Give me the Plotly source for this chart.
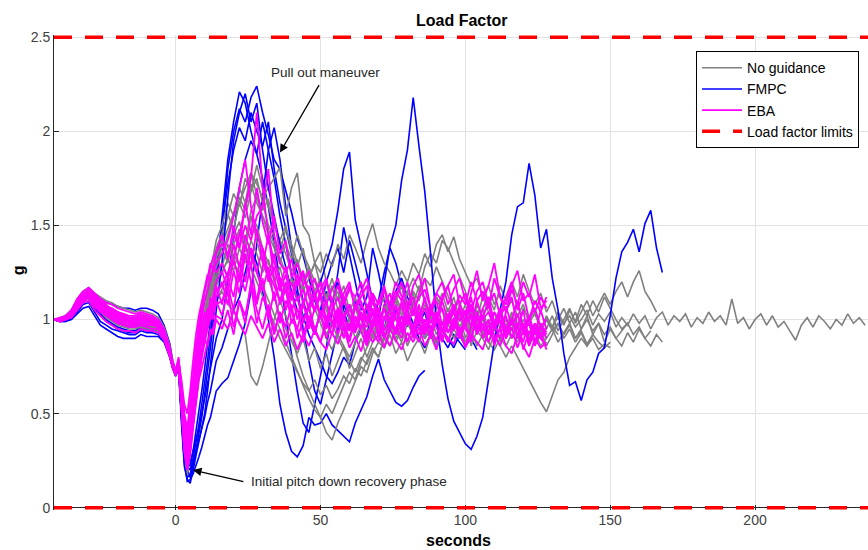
import plotly.graph_objects as go

# Common time grid (s): 2 s steps before release, 1 s through the pitch-down dip, 2 s afterwards
t_grid = list(range(-42, -1, 2)) + [-1, 0] + list(range(1, 15)) + list(range(16, 240, 2))

# ---------------- No guidance runs (g) ----------------
nog_1 = [1.00,1.00,1.01,1.04,1.10,1.14,1.16,1.12,1.10,1.07,1.06,1.04,1.03,1.01,1.02,1.03,1.01,1.00,0.98,0.93,0.83,0.76,0.72,
         0.77,0.50,0.25,0.17,0.30,0.48,0.62,0.75,0.88,0.98,1.08,1.15,1.22,1.28,
         1.35,1.45,1.55,1.62,1.70,1.78,1.72,1.65,1.70,1.75, 1.81,1.55,1.70,1.78,1.50,1.45,1.30,1.36,1.20,1.10,
         1.15,1.02,1.08,0.95,1.04,0.92,1.00,0.96,1.08,1.02, 1.12,1.05,0.98,1.10,1.04,0.95,1.02,0.92,0.98,1.06,
         0.96,1.03,0.90,0.97,1.05,0.94,0.88,0.98,1.04,0.92, 0.98,0.90,0.96,1.02,0.88,0.95,0.86,0.92,0.98,0.90,
         0.95,0.88,0.93,0.86,0.90,0.84,0.87,0.85]
nog_2 = [1.00,0.99,1.00,1.02,1.07,1.11,1.13,1.09,1.06,1.04,1.02,1.01,0.99,0.98,0.98,0.99,0.98,0.97,0.96,0.91,0.81,0.75,0.71,
         0.76,0.55,0.35,0.28,0.40,0.56,0.70,0.82,0.92,1.00,1.08,1.12,1.18,1.10,
         1.15,1.08,1.05,0.98,0.92,0.70,0.65,0.75,0.88,1.00, 1.10,1.18,1.05,1.12,1.00,1.08,0.95,1.02,0.92,0.98,
         1.05,0.94,1.00,0.90,0.97,0.88,0.95,1.02,0.92,0.98, 0.90,0.96,0.86,0.93,1.00,0.90,0.96,0.88,0.94,1.02,
         0.95,1.05,0.98,1.08,1.00,1.12,1.04,0.98,1.06,0.96, 1.04,0.94,1.00,0.92,0.98,0.90,0.95,1.02,0.94,1.00,
         1.06,0.98,1.04,1.10,1.02,1.08,1.14,1.08,1.15,1.20, 1.12,1.20,1.26,1.15,1.10,1.04]
nog_3 = [1.00,1.00,1.00,1.02,1.06,1.10,1.11,1.07,1.04,1.01,0.99,0.97,0.96,0.95,0.95,0.96,0.95,0.95,0.94,0.90,0.80,0.74,0.70,
         0.75,0.52,0.30,0.20,0.32,0.45,0.58,0.70,0.80,0.90,0.98,1.05,1.12,1.18,
         1.25,1.32,1.40,1.48,1.42,1.55,1.50,1.38,1.30,1.22, 1.10,1.02,0.92,0.80,0.70,0.62,0.55,0.48,0.40,0.36,
         0.45,0.52,0.60,0.68,0.75,0.72,0.82,0.88,0.85,0.95, 1.02,0.96,1.08,1.15,1.10,1.22,1.18,1.28,1.20,1.12,
         1.05,1.10,0.98,1.04,0.95,1.00,0.92,0.98,1.02,0.94, 0.98,0.90,0.95,0.88,0.93,0.86,0.90]
nog_4 = [1.00,1.00,1.01,1.03,1.08,1.12,1.14,1.10,1.08,1.06,1.04,1.03,1.02,1.00,1.00,1.01,1.00,0.99,0.97,0.92,0.83,0.76,0.71,
         0.77,0.58,0.40,0.32,0.42,0.55,0.66,0.76,0.84,0.90,0.96,1.00,1.05,1.10,
         1.16,1.22,1.30,1.25,1.35,1.28,1.20,1.12,1.05,0.98, 0.90,0.84,0.78,0.72,0.66,0.62,0.68,0.60,0.65,0.58,
         0.63,0.70,0.66,0.74,0.70,0.78,0.84,0.80,0.90,0.86, 0.94,0.88,0.98,0.92,1.02,0.96,0.90,1.00,0.94,0.88,
         0.95,0.90,0.98,0.86,0.94,0.90,0.84,0.92,0.86,0.80, 0.86,0.80,0.74,0.68,0.62,0.56,0.51,0.60,0.68,0.72,
         0.80,0.85,0.90,0.86,0.92,0.88,0.85,0.88]
nog_5 = [1.00,1.01,1.02,1.05,1.11,1.15,1.17,1.14,1.12,1.10,1.09,1.07,1.06,1.05,1.04,1.05,1.04,1.03,1.01,0.96,0.86,0.78,0.73,
         0.79,0.62,0.45,0.38,0.50,0.65,0.80,0.92,1.02,1.10,1.18,1.25,1.20,1.30,
         1.38,1.30,1.45,1.52,1.40,1.58,1.65,1.55,1.48,1.40, 1.32,1.25,1.18,1.24,1.15,1.22,1.30,1.25,1.35,1.28,
         1.40,1.32,1.45,1.38,1.30,1.42,1.51,1.38,1.30,1.25, 1.18,1.26,1.20,1.30,1.24,1.35,1.28,1.40,1.45,1.36,
         1.44,1.32,1.25,1.18,1.22,1.12,1.18,1.08,1.14,1.05, 1.10,1.02,1.08,0.98,1.04,0.96,1.00,0.94,0.98,0.92,
         0.97,0.90,0.95,1.00,0.94,0.98,0.92,0.96,0.90,0.94, 0.98,0.92,0.96,0.90,0.94]
nog_6 = [1.00,1.00,1.00,1.03,1.08,1.12,1.15,1.11,1.08,1.06,1.05,1.03,1.02,1.01,1.00,1.02,1.01,1.00,0.98,0.93,0.84,0.76,0.72,
         0.78,0.60,0.42,0.33,0.45,0.60,0.74,0.86,0.95,1.02,1.10,1.16,1.22,1.18,
         1.25,1.32,1.26,1.38,1.30,1.42,1.35,1.25,1.32,1.20, 1.28,1.15,1.22,1.10,1.18,1.05,1.12,1.00,1.08,0.96,
         1.04,0.92,1.00,1.08,0.95,1.03,0.90,0.98,1.06,0.94, 1.02,0.96,1.10,1.04,0.98,1.08,1.00,1.12,1.05,0.97,
         1.04,0.94,1.00,1.06,0.96,1.02,0.92,0.98,1.05,0.95, 1.02,0.97,1.06,0.99,1.03,0.95,1.01,0.96,1.04,0.98,
         1.02,0.96,1.00,1.05,0.97,1.03,0.99,1.04,0.96,1.01, 0.97,1.03,0.98,1.02,0.95,1.01,1.04,0.97,1.02,0.99,
         1.03,0.96,1.01,0.98,1.04,0.99,1.02,0.97,1.11,0.98, 1.01,0.95,1.00,1.03,0.97,1.02,0.96,0.99,0.94,0.89,
         0.97,1.01,0.96,1.02,0.99,0.95,1.00,0.97,1.03,0.98,1.01,0.97]
nog_7 = [1.00,0.99,1.00,1.02,1.06,1.10,1.12,1.08,1.05,1.03,1.01,1.00,0.98,0.97,0.97,0.98,0.97,0.96,0.95,0.91,0.82,0.75,0.71,
         0.77,0.56,0.36,0.27,0.38,0.52,0.66,0.78,0.90,1.00,1.10,1.20,1.28,1.34,
         1.42,1.55,1.67,1.60,1.75,1.68,1.82,1.70,1.60,1.50, 1.42,1.35,1.25,1.32,1.20,1.28,1.15,1.22,1.10,1.18,
         1.05,1.12,1.00,1.08,0.95,1.02,0.90,0.96,0.85,0.92, 0.82,0.88,0.78,0.85,0.90,0.82,0.92,0.86,0.95,0.88,
         0.98,0.92,1.02,0.95,1.08,1.00,1.12,1.05,1.18,1.10, 1.20,1.12,1.24,1.15,1.08,1.14,1.04,1.10,1.00,1.06,
         0.98,1.04,0.95,1.02,0.92,0.98,0.88,0.95,0.90,0.86, 0.93,0.88,0.95,0.90,0.86,0.92,0.88]
nog_8 = [1.00,1.00,1.01,1.03,1.09,1.13,1.14,1.10,1.07,1.05,1.03,1.02,1.00,0.99,0.99,1.00,0.99,0.98,0.97,0.92,0.82,0.75,0.71,
         0.76,0.54,0.32,0.24,0.36,0.50,0.64,0.74,0.85,0.95,1.05,1.14,1.24,1.33,
         1.40,1.48,1.56,1.65,1.58,1.72,1.62,1.55,1.45,1.38, 1.30,1.40,1.32,1.45,1.35,1.28,1.20,1.12,1.05,0.98,
         0.90,0.84,0.78,0.72,0.80,0.76,0.85,0.80,0.90,0.96, 0.88,0.95,1.02,0.94,1.00,0.90,0.97,0.85,0.92,0.98,
         0.90,0.96,0.88,0.94,0.86,0.92,0.88,0.95,0.90]
nog_9 = [1.00,1.00,1.00,1.02,1.07,1.11,1.13,1.09,1.07,1.05,1.03,1.01,1.00,0.99,0.98,1.00,0.99,0.98,0.96,0.91,0.81,0.75,0.71,
         0.77,0.57,0.38,0.30,0.42,0.56,0.68,0.80,0.90,0.98,1.06,1.12,1.18,1.24,
         1.30,1.22,1.35,1.28,1.40,1.32,1.25,1.18,1.10,1.02, 0.95,0.88,0.80,0.72,0.65,0.58,0.52,0.48,0.55,0.50,
         0.58,0.65,0.72,0.68,0.78,0.85,0.92,1.00,0.95,1.05, 1.12,1.05,1.15,1.22,1.15,1.28,1.35,1.30,1.42,1.38,
         1.30,1.22,1.15,1.05,0.98,0.92,0.88,0.84,0.90,0.86, 0.92,0.88,0.96,0.90,0.98,0.94,1.02,0.96,0.92]
nog_10 = [1.00,1.00,1.01,1.03,1.08,1.13,1.15,1.11,1.09,1.07,1.05,1.04,1.02,1.01,1.01,1.02,1.01,1.00,0.98,0.93,0.83,0.76,0.72,
          0.76,0.52,0.28,0.19,0.30,0.46,0.62,0.78,0.92,1.04,1.15,1.26,1.34,1.42,
          1.50,1.62,1.55,1.70,1.62,1.78,1.66,1.58,1.64,1.50, 1.42,1.50,1.36,1.28,1.38,1.22,1.30,1.18,1.12,1.22,
          1.10,1.18,1.04,1.12,1.00,1.08,0.96,1.05,1.12,1.02, 1.10,1.18,1.06,1.14,1.02,1.10,0.98,1.06,1.14,1.04,
          1.12,1.00,1.08,0.96,1.04,0.92,1.00,0.94,1.02,0.96, 0.90,0.98,0.92]
nog_11 = [1.00,0.99,1.00,1.02,1.06,1.10,1.12,1.07,1.05,1.02,1.00,0.99,0.97,0.96,0.96,0.97,0.96,0.96,0.95,0.90,0.81,0.75,0.71,
          0.76,0.54,0.32,0.22,0.34,0.48,0.62,0.72,0.84,0.92,1.00,1.08,1.14,1.22,
          1.28,1.40,1.32,1.48,1.36,1.55,1.42,1.30,1.22,1.12, 1.02,0.95,0.88,0.82,0.90,0.78,0.85,0.74,0.82,0.70,
          0.78,0.86,0.74,0.82,0.90,0.80,0.88,0.96,0.86,0.94, 1.02,0.92,1.00,1.08,0.98,1.06,0.95,1.02,0.90,0.98,
          1.05,0.94,1.00,0.92,0.98,1.06,0.94,1.00,0.88,0.96, 1.02,0.90,0.97,0.86,0.94,0.98,0.90,
          0.95,0.88,0.93,0.98,0.90,0.94,0.87,0.92]
nog_12 = [1.00,1.00,1.01,1.04,1.09,1.12,1.14,1.10,1.07,1.05,1.04,1.02,1.01,1.00,0.99,1.01,1.00,0.99,0.97,0.92,0.82,0.76,0.71,
          0.77,0.56,0.36,0.26,0.36,0.50,0.64,0.78,0.90,1.02,1.12,1.22,1.30,1.38,
          1.46,1.56,1.48,1.62,1.54,1.68,1.75,1.62,1.50,1.44, 1.36,1.48,1.40,1.30,1.22,1.14,1.05,0.98,0.90,0.84,
          0.92,0.86,0.80,0.88,0.94,0.86,0.92,1.00,0.94,1.04, 1.10,1.02,1.15,1.08,1.18,1.10,1.04,1.12,1.06,0.98,
          1.05,0.96,1.02,0.94,1.00,0.92,0.98,1.04,0.95,1.00, 0.94,1.02,0.96,0.90,0.98,0.93,
          1.00,0.95,1.02,0.97,1.05,0.99,1.08,1.02,1.10,1.04,1.12,1.06,1.00,0.95,0.98]

# ---------------- FMPC runs (g) ----------------
fmpc_1 = [1.00,0.99,0.99,1.01,1.04,1.08,1.09,1.04,0.99,0.97,0.95,0.94,0.93,0.92,0.92,0.94,0.93,0.93,0.92,0.89,0.80,0.74,0.70,
          0.74,0.45,0.22,0.15,0.13,0.20,0.28,0.35,0.42,0.50,0.62,0.75,0.90,1.05,
          1.30,1.65,1.95,2.10,2.20,2.05,2.15,1.90,1.70,1.55, 1.40,1.28,1.15,1.05,1.00,1.08,1.12,1.20,1.30,1.40,
          1.58,1.80,1.89,1.53,1.39,1.25,1.10,1.00,1.20,1.39, 1.50,1.74,1.90,2.18,1.92,1.68,1.35,1.00,0.76,0.58,
          0.46,0.40,0.34,0.31,0.38,0.48,0.68,0.88,1.05,1.20, 1.45,1.60,1.62,1.83,1.66,1.38,1.48,1.22,1.05,0.82,
          0.65,0.67,0.57,0.68,0.72,0.82,0.85,1.02,1.22,1.36, 1.41,1.48,1.36,1.51,1.58,1.38,1.25]
fmpc_2 = [1.00,1.00,1.00,1.02,1.06,1.10,1.11,1.06,1.02,0.99,0.97,0.95,0.94,0.93,0.93,0.95,0.94,0.94,0.93,0.90,0.81,0.75,0.71,
          0.76,0.48,0.25,0.16,0.18,0.24,0.30,0.36,0.42,0.48,0.56,0.62,0.70,0.78,
          0.85,0.95,1.05,1.12,1.25,1.38,1.30,1.15,1.00,0.80, 0.55,0.40,0.30,0.27,0.33,0.48,0.44,0.45,0.50,0.44,
          0.41,0.38,0.35,0.45,0.52,0.59,0.70,0.79,0.68,0.62, 0.56,0.54,0.57,0.64,0.70,0.73]
fmpc_3 = [1.00,1.00,1.01,1.04,1.09,1.13,1.15,1.10,1.06,1.03,1.01,0.99,0.97,0.96,0.96,0.98,0.97,0.96,0.95,0.91,0.82,0.75,0.71,
          0.75,0.50,0.28,0.20,0.16,0.22,0.30,0.38,0.48,0.60,0.72,0.85,1.00,1.18,
          1.45,1.80,2.00,2.12,2.05,2.18,2.24,2.10,1.98,1.85, 1.80,1.69,1.57,1.43,1.34,1.22,1.10,1.02,1.15,1.08,
          1.20,1.05,0.95,1.10,1.02,0.92,1.05,0.98,0.90,1.00, 0.94,1.02,0.96]
fmpc_4 = [1.00,0.99,1.00,1.02,1.07,1.11,1.12,1.07,1.03,1.00,0.98,0.96,0.95,0.94,0.94,0.96,0.95,0.95,0.94,0.90,0.81,0.75,0.71,
          0.75,0.52,0.30,0.22,0.20,0.26,0.34,0.44,0.55,0.66,0.78,0.92,1.08,1.25,
          1.55,1.85,2.05,2.21,2.15,2.00,1.88,1.75,1.60,1.40, 1.20,1.00,0.80,0.62,0.45,0.40,0.55,0.70,0.85,1.05,
          1.25,1.49,1.35,1.20,1.05,1.12,1.38,1.25,1.10,0.98, 1.05,0.96,1.02,0.92,0.98,0.90,0.95]
fmpc_5 = [1.00,1.00,1.02,1.05,1.10,1.14,1.16,1.13,1.11,1.09,1.08,1.07,1.06,1.06,1.05,1.06,1.06,1.05,1.03,0.97,0.87,0.78,0.73,
          0.78,0.55,0.35,0.25,0.22,0.30,0.40,0.50,0.62,0.74,0.86,0.98,1.12,1.28,
          1.50,1.72,1.90,2.02,1.95,2.10,2.00,1.92,2.05,1.80, 1.62,1.48,1.35,1.25,1.10,1.00,0.92,1.05,1.20,1.30,
          1.38,1.25,1.42,1.30,1.18,1.05,0.95,1.10,1.25,1.38, 1.30,1.18,1.05,0.98,0.90,0.85,0.92,0.88,0.95,0.90,
          0.85,0.92,0.86,0.90,0.84]
fmpc_6 = [1.00,0.99,0.99,1.00,1.03,1.06,1.07,1.02,0.97,0.95,0.93,0.91,0.90,0.90,0.90,0.92,0.91,0.91,0.91,0.88,0.80,0.74,0.70,
          0.74,0.46,0.24,0.14,0.15,0.18,0.22,0.27,0.32,0.38,0.44,0.48,0.55,0.62,
          0.66,0.69,0.78,0.87,0.98,1.15,1.40,1.65,1.90,2.02, 1.85,1.60,1.38,1.15,0.95,0.78,0.62,0.55,0.68,0.82,
          0.95,1.08,1.00]
fmpc_7 = [1.00,1.00,1.01,1.03,1.08,1.12,1.13,1.09,1.05,1.02,1.00,0.98,0.97,0.96,0.96,0.97,0.96,0.96,0.95,0.91,0.82,0.75,0.71,
          0.76,0.50,0.30,0.22,0.24,0.30,0.36,0.42,0.50,0.58,0.66,0.74,0.82,0.90,
          1.00,1.20,1.45,1.70,1.85,1.95,1.88,2.05,1.90,1.75, 1.55,1.40,1.25,1.12,1.02,0.92,0.85,0.78,0.70,0.66,
          0.72,0.80,0.76,0.88,0.95,1.05,1.12,1.02,0.95,1.08, 1.15,1.22,1.12,1.05,0.98,1.04,0.92,0.98,0.90,0.85,
          0.92,0.88,0.84]

# ---------------- EBA runs (g) ----------------
eba_1 = [1.00,1.00,1.01,1.04,1.09,1.13,1.16,1.12,1.09,1.07,1.06,1.04,1.03,1.02,1.02,1.03,1.02,1.01,0.99,0.94,0.84,0.76,0.72,
         0.78,0.55,0.32,0.22,0.35,0.52,0.66,0.78,0.88,0.95,1.02,1.08,1.12,1.15,
         1.18,1.25,1.32,1.45,1.60,1.75,2.10,1.70,1.45,1.30, 1.22,1.15,1.20,1.10,1.16,1.05,1.12,1.02,1.10,0.98,
         1.06,1.00,1.08,0.96,1.04,0.98,1.10,1.00,1.06,0.95, 1.03,1.08,0.97,1.05,1.00,1.12,0.98,1.04,0.94,1.02,
         1.08,0.99,1.05,0.96,1.10,1.00,1.04,0.95,1.02,1.07, 0.97,1.03,0.92,1.00,1.06,0.96,1.00]
eba_2 = [1.00,1.00,1.00,1.02,1.07,1.11,1.13,1.09,1.06,1.04,1.02,1.01,1.00,0.99,0.98,1.00,0.99,0.98,0.97,0.92,0.82,0.75,0.71,
         0.76,0.60,0.40,0.30,0.45,0.62,0.78,0.90,1.00,1.10,1.15,1.22,1.26,1.30,
         1.35,1.42,1.55,1.70,1.85,1.60,1.45,1.38,1.25,1.18, 1.10,1.20,1.05,1.12,0.98,1.08,1.15,1.02,0.95,1.05,
         1.12,1.00,0.94,1.06,1.10,0.98,1.03,0.92,1.08,1.14, 1.00,0.95,1.06,1.12,0.98,0.92,1.05,1.10,0.97,1.03,
         0.94,1.08,1.14,1.00,0.93,1.06,1.12,0.98,0.90,1.04, 1.12,0.96,0.88,1.02,0.92,1.05,0.95]
eba_3 = [1.00,1.01,1.02,1.05,1.11,1.15,1.17,1.14,1.11,1.09,1.08,1.06,1.05,1.04,1.03,1.04,1.03,1.02,1.00,0.95,0.85,0.77,0.73,
         0.80,0.65,0.50,0.42,0.55,0.70,0.86,0.98,1.08,1.15,1.22,1.28,1.33,1.36,
         1.40,1.35,1.45,1.38,1.50,1.42,1.55,1.60,1.80,1.45, 1.30,1.25,1.32,1.18,1.24,1.15,1.22,1.12,1.20,1.10,
         1.18,1.08,1.16,1.12,1.20,1.06,1.14,1.08,1.18,1.05, 1.15,1.10,1.20,1.04,1.12,1.16,1.06,1.14,1.10,1.18,
         1.05,1.13,1.08,1.20,1.10,1.15,1.06,1.22,1.12,1.08, 1.18,1.26,1.10,1.14,1.04,1.12,1.06]
eba_4 = [1.00,0.99,1.00,1.01,1.05,1.09,1.10,1.05,1.02,0.99,0.97,0.95,0.94,0.94,0.93,0.95,0.94,0.94,0.93,0.89,0.80,0.74,0.70,
         0.75,0.52,0.30,0.20,0.28,0.42,0.55,0.68,0.74,0.82,0.88,0.92,0.96,1.02,
         1.00,0.95,1.05,0.98,0.92,1.02,0.96,0.90,0.98,0.88, 0.95,0.86,0.93,0.84,0.92,0.86,0.95,0.88,0.84,0.93,
         0.87,0.96,0.85,0.91,0.83,0.94,0.88,0.92,0.85,0.95, 0.89,0.84,0.93,0.88,0.96,0.86,0.92,0.84,0.95,0.90,
         0.87,0.96,0.85,0.92,0.88,0.84,0.94,0.89,0.95,0.86, 0.82,0.92,0.86,0.80,0.90,0.85,0.88]
eba_5 = [1.00,1.00,1.01,1.03,1.08,1.12,1.14,1.10,1.08,1.06,1.04,1.03,1.02,1.01,1.00,1.02,1.01,1.00,0.98,0.93,0.83,0.76,0.72,
         0.78,0.68,0.55,0.50,0.62,0.78,0.92,1.02,1.10,1.18,1.24,1.20,1.28,1.25,
         1.30,1.22,1.40,1.28,1.45,1.35,1.25,1.38,1.20,1.28, 1.15,1.24,1.10,1.20,1.26,1.12,1.04,1.16,1.22,1.08,
         1.00,1.14,1.20,1.05,1.12,1.18,1.02,1.10,1.16,1.04, 1.12,1.20,1.08,1.02,1.14,1.22,1.06,1.00,1.12,1.18,
         1.24,1.08,1.02,1.14,1.26,1.10,1.18,1.30,1.12,1.04, 1.16,1.08,1.20,1.12,1.24,1.06,1.10]
eba_6 = [1.00,1.00,1.00,1.02,1.06,1.10,1.12,1.08,1.05,1.03,1.01,0.99,0.98,0.97,0.97,0.98,0.97,0.97,0.96,0.91,0.81,0.75,0.71,
         0.77,0.58,0.36,0.26,0.40,0.58,0.72,0.84,0.92,1.00,1.06,1.02,1.10,1.08,
         1.10,1.18,1.05,1.25,1.15,1.30,1.08,1.22,1.00,1.15, 0.98,1.10,1.04,0.95,1.08,1.00,0.92,1.05,0.98,1.10,
         0.96,1.02,0.94,1.08,1.00,0.96,1.06,0.90,1.02,0.97, 1.07,0.93,1.00,0.95,1.04,0.98,0.90,1.00,1.06,0.93,
         0.99,1.04,0.95,0.90,1.02,0.97,0.92,1.04,0.98,0.93, 1.00,0.95,1.05,0.88,0.98,0.92,0.96]
eba_7 = [1.00,1.00,1.01,1.03,1.09,1.14,1.15,1.11,1.07,1.05,1.03,1.02,1.01,1.00,0.99,1.01,1.00,0.99,0.98,0.93,0.83,0.76,0.72,
         0.79,0.62,0.45,0.36,0.50,0.66,0.80,0.70,0.82,0.90,0.86,0.95,0.92,1.00,
         0.95,1.05,0.92,1.10,0.98,1.20,1.05,0.95,1.08,0.94, 1.04,0.90,1.00,0.95,0.88,1.00,0.94,1.03,0.90,0.97,
         1.02,0.90,0.98,0.93,1.02,0.88,0.96,1.00,0.90,0.98, 0.93,1.02,0.88,0.97,0.92,1.00,0.95,0.89,0.98,0.93,
         1.01,0.90,0.97,1.03,0.92,0.98,0.88,0.95,1.00,0.90, 0.96,0.85,0.94,0.98,0.86,0.93,0.84]
eba_8 = [1.00,1.00,1.00,1.03,1.08,1.12,1.14,1.09,1.06,1.05,1.03,1.01,1.00,0.99,0.98,1.00,0.99,0.98,0.97,0.92,0.82,0.75,0.71,
         0.77,0.60,0.42,0.32,0.46,0.60,0.74,0.86,0.96,1.04,0.98,1.12,1.06,1.18,
         1.08,1.22,1.12,1.30,1.20,1.38,1.25,1.15,1.28,1.10, 1.20,1.05,1.15,1.00,1.10,0.95,1.06,1.12,0.98,1.04,
         0.92,1.02,1.08,0.96,1.02,0.90,1.00,1.06,0.94,1.00, 1.08,0.96,1.03,0.92,0.99,1.06,0.95,1.02,0.90,0.98,
         1.04,0.93,1.00,1.08,0.96,1.02,0.92,0.98,1.06,0.95, 1.00,0.92,0.98,0.88,0.96,0.90,0.94]
eba_9 = [1.00,1.00,1.02,1.04,1.10,1.13,1.15,1.13,1.10,1.08,1.05,1.04,1.02,1.01,1.01,1.02,1.00,1.00,0.98,0.94,0.84,0.77,0.72,
         0.78,0.58,0.38,0.28,0.36,0.50,0.64,0.76,0.86,0.94,1.00,1.06,1.14,1.20,
         1.26,1.15,1.32,1.20,1.40,1.28,1.48,1.32,1.22,1.35, 1.18,1.28,1.12,1.24,1.08,1.18,1.04,1.14,1.00,1.10,
         0.98,1.12,1.02,0.94,1.08,1.00,1.14,0.96,1.06,1.00, 0.94,1.10,1.02,0.96,1.08,0.92,1.04,0.98,1.10,1.00,
         0.95,1.06,0.99,1.12,0.94,1.02,1.08,0.96,1.04,0.90, 1.00,1.10,0.95,1.02,0.88,0.98,0.92]
eba_10 = [1.00,0.99,1.00,1.02,1.06,1.09,1.12,1.07,1.04,1.02,1.00,0.98,0.97,0.96,0.96,0.97,0.96,0.95,0.95,0.90,0.81,0.75,0.71,
          0.76,0.56,0.34,0.24,0.32,0.46,0.60,0.72,0.82,0.90,0.96,1.04,1.00,1.10,
          1.02,1.15,0.96,1.10,1.02,1.18,0.98,1.12,1.05,0.92, 1.04,0.96,1.08,0.90,1.00,1.06,0.94,0.88,1.00,0.92,
          1.06,0.98,0.90,1.02,0.95,1.08,0.94,0.88,1.00,1.05, 0.92,0.98,1.06,0.90,1.02,0.94,1.08,0.96,0.88,1.00,
          1.06,0.92,0.98,0.88,1.04,0.94,1.00,0.86,0.96,1.02, 0.90,0.98,0.84,0.94,0.88,0.96,0.90]
eba_11 = [1.00,1.00,1.01,1.04,1.09,1.12,1.15,1.10,1.08,1.06,1.04,1.02,1.01,1.00,1.00,1.01,1.00,0.99,0.97,0.92,0.83,0.76,0.72,
          0.78,0.64,0.48,0.40,0.52,0.68,0.82,0.95,1.05,1.15,1.22,1.30,1.26,1.36,
          1.45,1.32,1.50,1.38,1.62,1.45,1.70,1.52,1.40,1.55, 1.35,1.42,1.22,1.30,1.18,1.26,1.12,1.20,1.08,1.16,
          1.22,1.10,1.18,1.06,1.15,1.22,1.10,1.04,1.16,1.08, 1.20,1.12,1.05,1.18,1.24,1.10,1.02,1.14,1.20,1.08,
          1.16,1.22,1.10,1.04,1.15,1.20,1.08,1.14,1.02,1.12, 1.20,1.05,1.14,1.00,1.10,1.04,1.12]
eba_12 = [1.00,1.00,1.00,1.02,1.07,1.10,1.13,1.08,1.05,1.04,1.02,1.00,0.99,0.98,0.97,0.99,0.98,0.97,0.96,0.91,0.82,0.75,0.71,
          0.76,0.54,0.30,0.21,0.30,0.44,0.58,0.70,0.80,0.88,0.95,1.00,1.06,1.12,
          1.20,1.08,1.26,1.14,1.35,1.20,1.10,1.28,1.45,1.22, 1.08,1.16,0.98,1.06,0.92,1.02,0.95,0.88,0.98,0.92,
          1.04,0.96,0.88,1.00,0.94,0.86,0.98,1.04,0.92,0.86, 0.96,0.90,1.02,0.94,0.88,0.98,0.92,1.04,0.95,0.88,
          0.98,0.92,0.86,0.96,1.02,0.90,0.97,0.92,0.86,0.95, 1.00,0.92,0.97,0.86,0.94,0.90,0.86]

no_guidance = [nog_1, nog_2, nog_3, nog_4, nog_5, nog_6, nog_7, nog_8, nog_9, nog_10, nog_11, nog_12]
fmpc_runs = [fmpc_2, fmpc_3, fmpc_4, fmpc_5, fmpc_6, fmpc_7]
eba_runs = [eba_1, eba_2, eba_3, eba_4, eba_5, eba_6, eba_7, eba_8, eba_9, eba_10, eba_11, eba_12]

limit_t = [-42, 239]
limit_low = [0.0, 0.0]
limit_high = [2.5, 2.5]

GRAY = "#808080"
BLUE = "#0000FF"
MAGENTA = "#FF00FF"
RED = "#FF0000"
FONT = "Liberation Sans, Arial, sans-serif"

fig = go.Figure()


def add_runs(runs, color, name, rank, width=1.6, first_legend=True):
    for i, vals in enumerate(runs):
        fig.add_trace(go.Scatter(
            x=t_grid[:len(vals)], y=vals, mode="lines",
            line=dict(color=color, width=width),
            name=name, legendgroup=name, legendrank=rank,
            showlegend=(first_legend and i == 0),
            hoverinfo="skip",
        ))


# FMPC below, no-guidance over it, long FMPC run, then EBA on top
add_runs(fmpc_runs, BLUE, "FMPC", 2)
add_runs(no_guidance, GRAY, "No guidance", 1)
add_runs([fmpc_1], BLUE, "FMPC", 2, first_legend=False)
add_runs(eba_runs, MAGENTA, "EBA", 3, width=1.8)

for i, lim in enumerate([limit_low, limit_high]):
    fig.add_trace(go.Scatter(
        x=limit_t, y=lim, mode="lines",
        line=dict(color=RED, width=3.5, dash="18px,13px"),
        name="Load factor limits", legendgroup="lim", legendrank=4,
        showlegend=(i == 0), hoverinfo="skip",
    ))

ANN = "#262626"
fig.add_annotation(x=36.0, y=1.887, ax=49.8, ay=2.254, axref="x", ayref="y",
                   text="", showarrow=True, arrowhead=2, arrowsize=1.3,
                   arrowwidth=1.3, arrowcolor="#000000")
fig.add_annotation(x=51.6, y=2.312, text="Pull out maneuver", showarrow=False,
                   font=dict(family=FONT, size=13.5, color=ANN))
fig.add_annotation(x=6.0, y=0.20, ax=23.9, ay=0.137, axref="x", ayref="y",
                   text="", showarrow=True, arrowhead=2, arrowsize=1.3,
                   arrowwidth=1.3, arrowcolor="#000000")
fig.add_annotation(x=25.3, y=0.142, text="Initial pitch down recovery phase",
                   showarrow=False, xanchor="left",
                   font=dict(family=FONT, size=13.5, color=ANN))

# axis titles
fig.add_annotation(xref="paper", yref="paper", x=0.4975, y=-0.0635,
                   xanchor="center", yanchor="middle",
                   text="<b>seconds</b>", showarrow=False,
                   font=dict(family=FONT, size=16, color="#000000"))
fig.add_annotation(xref="paper", yref="paper", x=-0.0442, y=0.505,
                   xanchor="center", yanchor="middle",
                   text="<b>g</b>", showarrow=False, textangle=-90,
                   font=dict(family=FONT, size=16, color="#000000"))

fig.update_layout(
    width=868, height=550,
    margin=dict(l=54, r=0, t=35, b=40),
    paper_bgcolor="white", plot_bgcolor="white",
    title=dict(text="<b>Load Factor</b>", x=0.532, xanchor="center",
               y=0.963, yanchor="middle",
               font=dict(family=FONT, size=16, color="#000000")),
    showlegend=True,
    legend=dict(x=0.989, y=0.966, xanchor="right", yanchor="top",
                bgcolor="white", bordercolor="#000000", borderwidth=1,
                font=dict(family=FONT, size=14, color="#000000"),
                itemwidth=40, tracegroupgap=0,
                traceorder="normal"),
    xaxis=dict(range=[-42, 239], tickvals=[0, 50, 100, 150, 200],
               showgrid=True, gridcolor="#e2e2e2", gridwidth=1,
               ticks="inside", ticklen=5, tickcolor="#262626",
               showline=False, zeroline=False, layer="below traces",
               tickfont=dict(family=FONT, size=14, color="#404040")),
    yaxis=dict(range=[-0.012, 2.512], tickvals=[0, 0.5, 1, 1.5, 2, 2.5],
               ticktext=["0", "0.5", "1", "1.5", "2", "2.5"],
               showgrid=True, gridcolor="#e2e2e2", gridwidth=1,
               ticks="inside", ticklen=5, tickcolor="#262626",
               showline=True, linecolor="#262626", linewidth=1,
               zeroline=True, zerolinecolor="#262626", zerolinewidth=1,
               layer="below traces",
               tickfont=dict(family=FONT, size=14, color="#404040")),
)

fig.write_html("out.html")
